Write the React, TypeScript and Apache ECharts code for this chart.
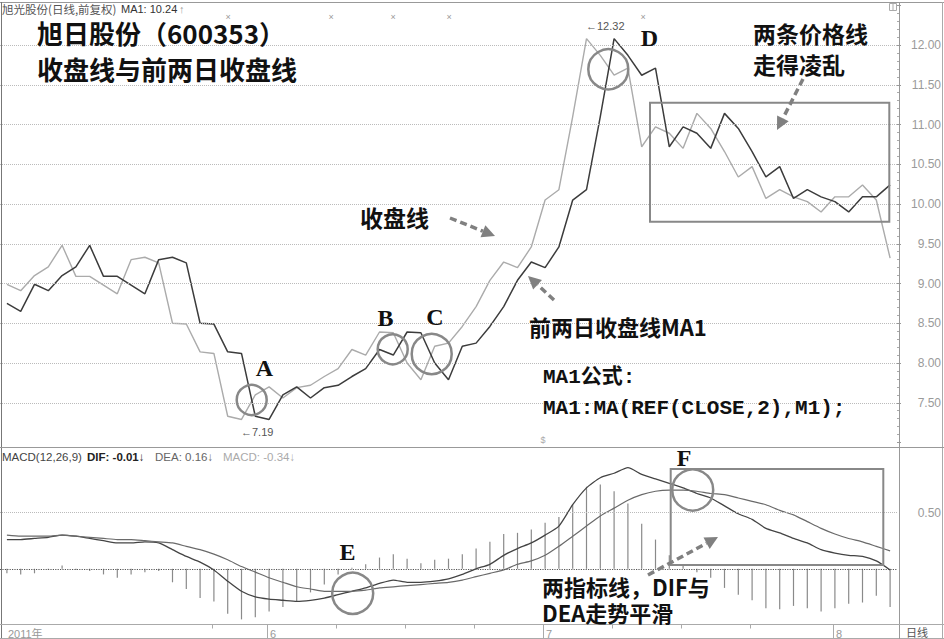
import React, { useEffect, useRef } from "react";
import * as echarts from "echarts";

// ---- data ----
const closePrice = [
  8.99, 8.91, 9.1, 9.21, 9.48, 9.09, 9.09, 8.98, 8.87, 9.3,
  9.33, 9.26, 8.5, 8.49, 8.14, 8.12, 7.33, 7.29, 7.6, 7.7,
  7.56, 7.69, 7.72, 7.83, 7.93, 8.17, 8.1, 8.39, 8.38, 8.0,
  7.79, 8.21, 8.25, 8.46, 8.71, 9.04, 9.27, 9.2, 9.46, 10.05,
  10.18, 11.1, 12.08, 11.87, 11.62, 11.71, 10.72, 10.97, 10.89, 10.7,
  11.14, 10.95, 10.66, 10.34, 10.47, 10.07, 10.18, 10.09, 10.03, 9.9,
  10.09, 10.09, 10.24, 10.05, 9.32,
];
const ma1 = [
  8.75, 8.65, 8.99, 8.91, 9.1, 9.21, 9.48, 9.09, 9.09, 8.98,
  8.87, 9.3, 9.33, 9.26, 8.5, 8.49, 8.14, 8.12, 7.33, 7.29,
  7.6, 7.7, 7.56, 7.69, 7.72, 7.83, 7.93, 8.17, 8.1, 8.39,
  8.38, 8.0, 7.79, 8.21, 8.25, 8.46, 8.71, 9.04, 9.27, 9.2,
  9.46, 10.05, 10.18, 11.1, 12.08, 11.87, 11.62, 11.71, 10.72, 10.97,
  10.89, 10.7, 11.14, 10.95, 10.66, 10.34, 10.47, 10.07, 10.18, 10.09,
  10.03, 9.9, 10.09, 10.09, 10.24,
];
const dif = [
  0.26, 0.26, 0.27, 0.28, 0.3, 0.29, 0.27, 0.25, 0.23, 0.23,
  0.24, 0.23, 0.17, 0.11, 0.06, -0.01, -0.11, -0.2, -0.25, -0.27,
  -0.28, -0.29, -0.28, -0.26, -0.23, -0.2, -0.17, -0.13, -0.1, -0.12,
  -0.12, -0.11, -0.09, -0.05, 0.0, 0.04, 0.12, 0.18, 0.23, 0.3,
  0.38, 0.57, 0.72, 0.81, 0.85, 0.9, 0.84, 0.8, 0.76, 0.72,
  0.67, 0.63, 0.56, 0.49, 0.44, 0.36, 0.32, 0.27, 0.23, 0.17,
  0.14, 0.12, 0.11, 0.07, -0.01,
];
const dea = [
  0.3, 0.29, 0.29, 0.29, 0.3, 0.29, 0.28, 0.27, 0.26, 0.26,
  0.25, 0.24, 0.23, 0.2, 0.17, 0.13, 0.08, 0.02, -0.03, -0.08,
  -0.12, -0.16, -0.18, -0.2, -0.2, -0.2, -0.19, -0.17, -0.16, -0.15,
  -0.14, -0.13, -0.12, -0.1, -0.07, -0.04, -0.01, 0.04, 0.07, 0.12,
  0.2, 0.29, 0.38, 0.47, 0.54, 0.61, 0.66, 0.69, 0.7, 0.7,
  0.69, 0.67, 0.66, 0.63, 0.6, 0.57, 0.52, 0.48, 0.42, 0.36,
  0.31, 0.27, 0.24, 0.2, 0.16,
];
const macdBar = [
  -0.04, -0.05, -0.04, -0.01, 0.03, -0.01, -0.02, -0.05, -0.08, -0.05,
  -0.03, -0.02, -0.12, -0.18, -0.26, -0.29, -0.4, -0.45, -0.43, -0.38,
  -0.34, -0.29, -0.21, -0.14, -0.05, 0.01, 0.04, 0.1, 0.13, 0.09,
  0.05, 0.08, 0.09, 0.13, 0.18, 0.24, 0.31, 0.32, 0.35, 0.41,
  0.46, 0.57, 0.73, 0.75, 0.69, 0.58, 0.4, 0.26, 0.12, 0.03,
  -0.03, -0.08, -0.17, -0.23, -0.28, -0.35, -0.36, -0.33, -0.35, -0.38,
  -0.35, -0.31, -0.3, -0.24, -0.34,
];
const priceGrid = [7.5, 8, 8.5, 9, 9.5, 10, 10.5, 11, 11.5, 12];
const macdGrid = [0.5];
const monthLabelIdx = [0, 19, 39, 60];
const monthLabelText = ["2011年", "6", "7", "8"];
const weekTickIdx = [15, 24, 29, 34, 44, 49, 54];

const CJK = "'Noto Sans CJK SC', sans-serif";
const SANS = "'Liberation Sans', Arial, 'Noto Sans CJK SC', sans-serif";
const MONO = "'Liberation Mono', 'Noto Sans CJK SC', monospace";
const SERIF = "'Liberation Serif', 'Times New Roman', serif";

function txt(
  x: number,
  y: number,
  t: string,
  size: number,
  fill: string,
  family: string,
  weight: string = "normal",
  align: string = "left",
  lh?: number
) {
  return {
    type: "text",
    x,
    y,
    z: 100,
    silent: true,
    style: {
      text: t,
      fill,
      fontSize: size,
      fontFamily: family,
      fontWeight: weight,
      lineHeight: lh || size,
      align,
      textAlign: align,
      verticalAlign: "middle",
      textVerticalAlign: "middle",
    },
  };
}
function ln(x1: number, y1: number, x2: number, y2: number, stroke = "#999", w = 1) {
  return { type: "line", z: 90, silent: true, shape: { x1, y1, x2, y2 }, style: { stroke, lineWidth: w } };
}
function circ(cx: number, cy: number, r: number) {
  return { type: "circle", z: 95, silent: true, shape: { cx, cy, r }, style: { fill: "none", stroke: "#888", lineWidth: 2.5 } };
}
function box(x: number, y: number, w: number, h: number) {
  return { type: "rect", z: 95, silent: true, shape: { x, y, width: w, height: h }, style: { fill: "none", stroke: "#888", lineWidth: 2 } };
}
function arrow(x1: number, y1: number, x2: number, y2: number) {
  const a = Math.atan2(y2 - y1, x2 - x1);
  const hl = 13, hw = 6.5;
  const bx = x2 - hl * Math.cos(a), by = y2 - hl * Math.sin(a);
  const px = -Math.sin(a) * hw, py = Math.cos(a) * hw;
  return [
    { type: "line", z: 95, silent: true, shape: { x1, y1, x2: bx, y2: by }, style: { stroke: "#808080", lineWidth: 3.5, lineDash: [7, 4] } },
    { type: "polygon", z: 95, silent: true, shape: { points: [[x2, y2], [bx + px, by + py], [bx - px, by - py]] }, style: { fill: "#808080" } },
  ];
}

export default function App() {
  const ref = useRef<HTMLDivElement>(null);
  useEffect(() => {
    const el = ref.current!;
    const chart = echarts.init(el, null, { renderer: "svg" });
    const cats = closePrice.map((_, i) => String(i));
    const option: any = {
      animation: false,
      backgroundColor: "#fff",
      grid: [
        { left: 0, width: 899, top: 5.25, height: 437.25 },
        { left: 0, width: 899, top: 456.4, height: 168.9 },
      ],
      xAxis: [
        { type: "category", gridIndex: 0, data: cats, boundaryGap: true, show: false },
        {
          type: "category",
          gridIndex: 1,
          data: cats,
          boundaryGap: true,
          axisLine: { show: false },
          axisTick: { show: false },
          splitLine: { show: false },
          axisLabel: {
            interval: (i: number) => monthLabelIdx.indexOf(i) >= 0,
            formatter: (v: string) => {
              const k = monthLabelIdx.indexOf(Number(v));
              return k >= 0 ? monthLabelText[k] : "";
            },
            align: "left",
            margin: 3,
            padding: [0, 0, 0, 1],
            color: "#999",
            fontSize: 11,
            fontFamily: SANS,
          },
        },
      ],
      yAxis: [
        {
          type: "value",
          gridIndex: 0,
          position: "right",
          min: 7,
          max: 12.5,
          interval: 0.5,
          axisLine: { show: false },
          axisTick: { show: true, length: 4, lineStyle: { color: "#999" } },
          minorTick: { show: true, splitNumber: 5, length: 2, lineStyle: { color: "#aaa" } },
          splitLine: { show: false },
          axisLabel: {
            margin: 44,
            align: "right",
            color: "#9a9a9a",
            fontSize: 12,
            fontFamily: SANS,
            formatter: (v: number) => (v < 7.25 || v > 12.25 ? "" : v.toFixed(2)),
          },
        },
        {
          type: "value",
          gridIndex: 1,
          position: "right",
          min: -0.5,
          max: 1,
          interval: 0.5,
          axisLine: { show: false },
          axisTick: { show: false },
          splitLine: { show: false },
          axisLabel: {
            margin: 44,
            align: "right",
            color: "#9a9a9a",
            fontSize: 12,
            fontFamily: SANS,
            formatter: (v: number) => (macdGrid.some((g) => Math.abs(g - v) < 1e-6) ? v.toFixed(2) : ""),
          },
        },
      ],
      series: [
        {
          type: "line",
          name: "close",
          xAxisIndex: 0,
          yAxisIndex: 0,
          data: closePrice,
          symbol: "none",
          lineStyle: { color: "#ababab", width: 1.4 },
          z: 3,
          markLine: {
            silent: true,
            symbol: ["none", "none"],
            label: { show: false },
            lineStyle: { type: "dotted", color: "#bbb", width: 1 },
            data: priceGrid.map((v) => ({ yAxis: v })),
          },
        },
        {
          type: "line",
          name: "MA1",
          xAxisIndex: 0,
          yAxisIndex: 0,
          data: ma1,
          symbol: "none",
          lineStyle: { color: "#3c3c3c", width: 1.5 },
          z: 4,
        },
        {
          type: "bar",
          name: "MACD",
          xAxisIndex: 1,
          yAxisIndex: 1,
          data: macdBar,
          barWidth: 1.2,
          itemStyle: { color: "#8a8a8a" },
          z: 2,
          markLine: {
            silent: true,
            symbol: ["none", "none"],
            label: { show: false },
            data: [
              ...macdGrid.map((v) => ({ yAxis: v, lineStyle: { type: "dotted", color: "#bbb", width: 1 } })),
              { yAxis: 0, lineStyle: { type: "dotted", color: "#555", width: 1.2 } },
            ],
          },
        },
        {
          type: "line",
          name: "DIF",
          xAxisIndex: 1,
          yAxisIndex: 1,
          data: dif,
          symbol: "none",
          smooth: 0.2,
          lineStyle: { color: "#444", width: 1.3 },
          z: 4,
        },
        {
          type: "line",
          name: "DEA",
          xAxisIndex: 1,
          yAxisIndex: 1,
          data: dea,
          symbol: "none",
          smooth: 0.2,
          lineStyle: { color: "#6a6a6a", width: 1.2 },
          z: 4,
        },
      ],
    };
    chart.setOption(option);

    const els: any[] = [];
    // frame
    els.push(ln(0, 2.5, 944, 2.5, "#999"));
    els.push(ln(1.5, 2, 1.5, 639, "#777"));
    els.push(ln(942.5, 2, 942.5, 639, "#aaa"));
    els.push(ln(0, 638.5, 944, 638.5, "#aaa"));
    els.push(ln(899.5, 2, 899.5, 639, "#999"));
    els.push(ln(0, 447.5, 944, 447.5, "#999"));
    els.push(ln(0, 624.5, 944, 624.5, "#aaa"));
    // month separators and week ticks on the time strip
    monthLabelIdx.forEach((i) => {
      if (i === 0) return;
      const p = chart.convertToPixel({ gridIndex: 1 }, [i, 0]) as number[];
      const x = Math.round(p[0]) - 1.5;
      els.push(ln(x, 624.5, x, 639, "#aaa"));
    });
    weekTickIdx.forEach((i) => {
      const p = chart.convertToPixel({ gridIndex: 1 }, [i, 0]) as number[];
      const x = Math.round(p[0]) - 1.5;
      els.push(ln(x, 624.5, x, 628.5, "#aaa"));
    });
    // top-right small icon
    els.push({ type: "rect", z: 90, silent: true, shape: { x: 889.5, y: 3.5, width: 7, height: 7 }, style: { fill: "none", stroke: "#aaa", lineWidth: 1 } });
    els.push(ln(893, 3.5, 893, 10.5, "#aaa"));
    // headers
    els.push(txt(2, 8.5, "旭光股份(日线,前复权)", 11.5, "#555", CJK));
    els.push(txt(121, 8.5, "MA1: 10.24", 11, "#333", SANS));
    els.push(txt(179, 8.5, "↑", 11, "#999", SANS));
    els.push(txt(2, 456.5, "MACD(12,26,9)", 11.5, "#444", SANS));
    els.push(txt(87, 456.5, "DIF: -0.01↓", 11.5, "#222", SANS, "bold"));
    els.push(txt(155, 456.5, "DEA: 0.16↓", 11.5, "#666", SANS));
    els.push(txt(223, 456.5, "MACD: -0.34↓", 11.5, "#aaa", SANS));
    els.push(txt(906, 632, "日线", 11, "#555", CJK));
    // small markers
    [228, 331, 393, 449, 643].forEach((x) => els.push(txt(x, 16.5, "×", 9, "#999", SANS, "normal", "center")));
    els.push(txt(543, 440, "$", 9, "#aaa", SANS, "normal", "center"));
    els.push(txt(586, 26, "←12.32", 11, "#555", SANS));
    els.push(txt(241, 432, "←7.19", 11, "#555", SANS));
    // titles and annotations
    els.push(txt(37, 32, "旭日股份（600353）", 26, "#111", CJK, "bold", "left", 22));
    els.push(txt(37, 68, "收盘线与前两日收盘线", 26, "#111", CJK, "bold", "left", 22));
    els.push(txt(753, 33, "两条价格线", 23, "#111", CJK, "bold", "left", 20));
    els.push(txt(753, 64, "走得凌乱", 23, "#111", CJK, "bold", "left", 20));
    els.push(txt(360, 217, "收盘线", 23, "#111", CJK, "bold", "left", 20));
    els.push(txt(529, 326, "前两日收盘线MA1", 22, "#111", CJK, "bold", "left", 20));
    els.push(txt(543, 377, "MA1公式:", 21, "#111", MONO, "bold", "left", 20));
    els.push(txt(543, 408, "MA1:MA(REF(CLOSE,2),M1);", 21, "#111", MONO, "bold", "left", 20));
    els.push(txt(542, 586, "两指标线，DIF与", 22, "#111", CJK, "bold", "left", 20));
    els.push(txt(542, 612, "DEA走势平滑", 22, "#111", CJK, "bold", "left", 20));
    // letters
    els.push(txt(264.5, 368, "A", 24, "#111", SERIF, "bold", "center", 18));
    els.push(txt(385.5, 317.5, "B", 24, "#111", SERIF, "bold", "center", 18));
    els.push(txt(435, 317, "C", 24, "#111", SERIF, "bold", "center", 18));
    els.push(txt(649.5, 38, "D", 24, "#111", SERIF, "bold", "center", 18));
    els.push(txt(347.5, 551.5, "E", 24, "#111", SERIF, "bold", "center", 18));
    els.push(txt(684, 458, "F", 24, "#111", SERIF, "bold", "center", 18));
    // circles
    els.push(circ(251.7, 400, 15));
    els.push(circ(392.7, 349.3, 15));
    els.push(circ(431.7, 354, 20));
    els.push(circ(608.3, 69.3, 20));
    els.push(circ(352.7, 593.3, 20.5));
    els.push(circ(692.7, 490, 20.5));
    // boxes
    els.push(box(650, 102.7, 239.3, 119));
    els.push(box(670.7, 469, 212.6, 96));
    // dashed arrows
    els.push(...arrow(450, 218, 495, 236));
    els.push(...arrow(554, 300, 528, 276));
    els.push(...arrow(803, 79, 777, 130));
    els.push(...arrow(648, 575, 718, 537));

    chart.setOption({ graphic: { elements: els } });
    return () => chart.dispose();
  }, []);
  return (
    <div
      ref={ref}
      style={{ position: "absolute", left: 0, top: 0, width: 944, height: 639, background: "#fff" }}
    />
  );
}
